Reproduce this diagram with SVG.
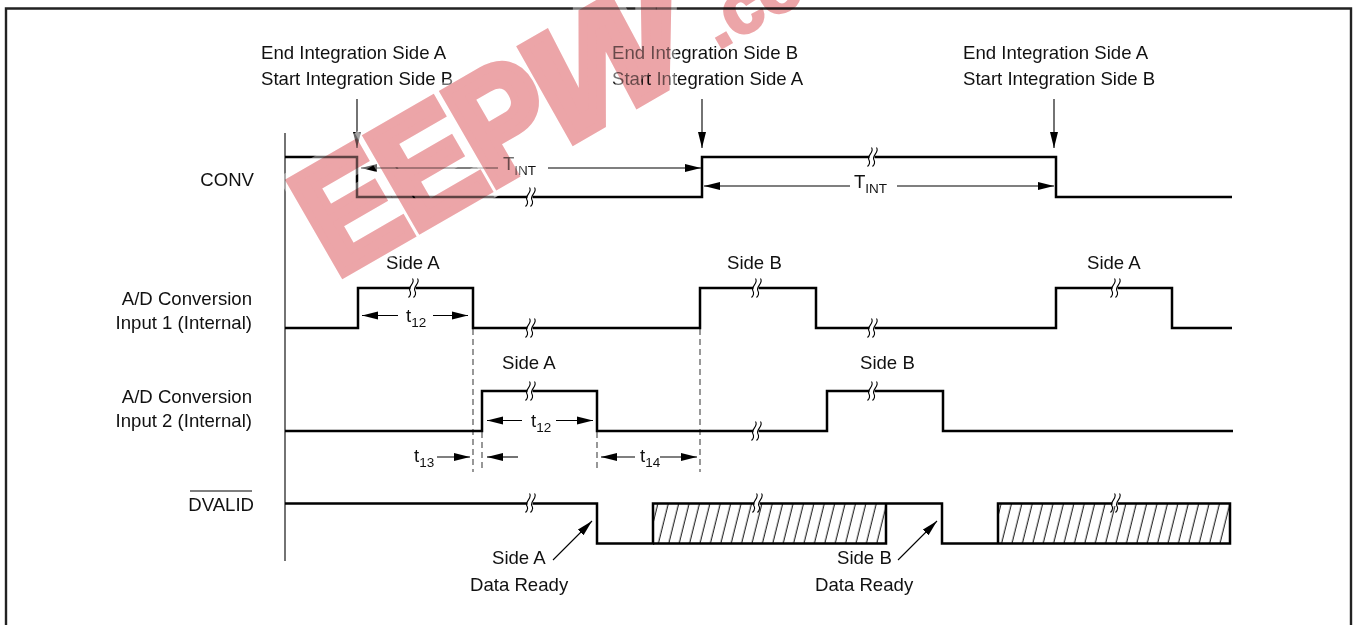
<svg xmlns="http://www.w3.org/2000/svg" xmlns:xlink="http://www.w3.org/1999/xlink" width="1356" height="625" viewBox="0 0 1356 625">
<style>
text{font-family:"Liberation Sans",Arial,sans-serif;font-size:18.6px;fill:#111}
.e{text-anchor:end}
.sub{font-size:13.5px}
.sig{fill:none;stroke:#000;stroke-width:2.5;stroke-linejoin:miter}
.thin{fill:none;stroke:#000;stroke-width:1.1}
.dash{fill:none;stroke:#444;stroke-width:1.1;stroke-dasharray:6 4}
.arr{fill:none;stroke:#000;stroke-width:1.1;marker-end:url(#head)}
.wm{font-family:"Liberation Sans",Arial,sans-serif;font-weight:bold;font-size:154px;stroke-linejoin:miter;letter-spacing:-4px}
.halo{fill:none;stroke:#fff;stroke-opacity:.4;stroke-width:20}
.red{fill:#eca5a8;stroke:#eca5a8;stroke-width:9}
.mul{mix-blend-mode:multiply}
.co{font-size:72px;stroke-width:3;letter-spacing:0}
</style>
<defs>
<marker id="head" markerUnits="userSpaceOnUse" markerWidth="17" markerHeight="10" refX="16" refY="4.5" orient="auto">
<path d="M0,0.5 L16,4.5 L0,8.5 Z" fill="#000"/>
</marker>
<pattern id="hatch" patternUnits="userSpaceOnUse" width="10.4" height="40" patternTransform="translate(653,503) skewX(-14)">
<line x1="5" y1="0" x2="5" y2="40" stroke="#000" stroke-width="1"/>
</pattern>
<g id="brk">
<rect x="-2.5" y="-3" width="5" height="6" fill="#fff"/>
<path class="thin" d="M-0.5,-9.5 C3,-5 -6,-1 -3,3 C-2,5 -2,7 -4.5,9.5"/>
<path class="thin" d="M4.5,-9.5 C8,-5 -1,-1 2,3 C3,5 3,7 0.5,9.5"/>
</g>
</defs>
<rect width="1356" height="625" fill="#fff"/>
<path id="frame" d="M6,625 V8.5 H1351 V625" fill="none" stroke="#222" stroke-width="2.4"/>
<line id="axis" class="thin" x1="285" y1="133" x2="285" y2="561"/>

<g id="connectors">
<path class="arr" d="M357,99 V148"/>
<path class="arr" d="M702,99 V148"/>
<path class="arr" d="M1054,99 V148"/>
<path class="arr" d="M498,168 H361"/>
<path class="arr" d="M548,168 H701"/>
<path class="arr" d="M850,186 H704"/>
<path class="arr" d="M897,186 H1054"/>
<path class="arr" d="M398,315.500 H362"/>
<path class="arr" d="M433,315.500 H468"/>
<path class="arr" d="M522,420.500 H487"/>
<path class="arr" d="M556,420.500 H593"/>
<path class="arr" d="M437,457 H470"/>
<path class="arr" d="M518,457 H487"/>
<path class="arr" d="M635,457 H601"/>
<path class="arr" d="M660,457 H697"/>
<path class="arr" d="M553,560 L592,521"/>
<path class="arr" d="M898,560 L937,521"/>
<path class="dash" d="M473,329 V472"/>
<path class="dash" d="M482,432 V472"/>
<path class="dash" d="M597,432 V472"/>
<path class="dash" d="M700,329 V472"/>
</g>

<g id="label-top">
<text x="261" y="59">End Integration Side A</text>
<text x="261" y="85">Start Integration Side B</text>
<text x="612" y="59">End Integration Side B</text>
<text x="612" y="85">Start Integration Side A</text>
<text x="963" y="59">End Integration Side A</text>
<text x="963" y="85">Start Integration Side B</text>
</g>

<g id="sig-conv">
<path class="sig" d="M285,157 H357 V197 H702 V157 H1056 V197 H1232"/>
<use xlink:href="#brk" href="#brk" x="530" y="197"/>
<use xlink:href="#brk" href="#brk" x="872" y="157"/>
<text class="e" x="254" y="186">CONV</text>
<text x="503" y="170">T<tspan class="sub" dy="5">INT</tspan></text>
<text x="854" y="188">T<tspan class="sub" dy="5">INT</tspan></text>
</g>

<g id="sig-input1">
<path class="sig" d="M285,328 H358 V288 H473 V328 H700 V288 H816 V328 H1056 V288 H1172 V328 H1232"/>
<use xlink:href="#brk" href="#brk" x="413" y="288"/>
<use xlink:href="#brk" href="#brk" x="530" y="328"/>
<use xlink:href="#brk" href="#brk" x="756" y="288"/>
<use xlink:href="#brk" href="#brk" x="872" y="328"/>
<use xlink:href="#brk" href="#brk" x="1115" y="288"/>
<text class="e" x="252" y="305">A/D Conversion</text>
<text class="e" x="252" y="329">Input 1 (Internal)</text>
<text x="386" y="269">Side A</text>
<text x="727" y="269">Side B</text>
<text x="1087" y="269">Side A</text>
<text x="406" y="322">t<tspan class="sub" dy="5">12</tspan></text>
</g>

<g id="sig-input2">
<path class="sig" d="M285,431 H482 V391 H597 V431 H827 V391 H943 V431 H1233"/>
<use xlink:href="#brk" href="#brk" x="530" y="391"/>
<use xlink:href="#brk" href="#brk" x="756" y="431"/>
<use xlink:href="#brk" href="#brk" x="872" y="391"/>
<text class="e" x="252" y="403">A/D Conversion</text>
<text class="e" x="252" y="427">Input 2 (Internal)</text>
<text x="502" y="369">Side A</text>
<text x="860" y="369">Side B</text>
<text x="531" y="427">t<tspan class="sub" dy="5">12</tspan></text>
<text x="414" y="462">t<tspan class="sub" dy="5">13</tspan></text>
<text x="640" y="462">t<tspan class="sub" dy="5">14</tspan></text>
</g>

<g id="sig-dvalid">
<rect x="653" y="503.500" width="233" height="40" fill="url(#hatch)"/>
<rect x="998" y="503.500" width="232" height="40" fill="url(#hatch)"/>
<path class="sig" d="M285,503.500 H597 V543.500 H653 V503.500 H942 V543.500 H998 V503.500 H1230 V543.500 H998"/>
<path class="sig" d="M653,543.500 H886 V503.500"/>
<use xlink:href="#brk" href="#brk" x="530" y="503"/>
<use xlink:href="#brk" href="#brk" x="757" y="503"/>
<use xlink:href="#brk" href="#brk" x="1115" y="503"/>
<line class="thin" x1="190" y1="491" x2="252" y2="491"/>
<text class="e" x="254" y="511">DVALID</text>
<text x="492" y="564">Side A</text>
<text x="470" y="591">Data Ready</text>
<text x="837" y="564">Side B</text>
<text x="815" y="591">Data Ready</text>
</g>

<g id="watermark">
<g transform="translate(335.500,278) rotate(-30)">
<text class="wm halo" transform="scale(.9,1)" x="0" y="0">EEP</text>
<text class="wm halo" transform="translate(245,0) skewX(-17) scale(1.15,1)" x="0" y="0">W</text>
<g class="mul">
<text class="wm red" transform="scale(.9,1)" x="0" y="0">EEP</text>
<text class="wm red" transform="translate(245,0) skewX(-17) scale(1.15,1)" x="0" y="0">W</text>
</g>
</g>
<text class="wm red co mul" transform="translate(718,50) rotate(-30)">.co</text>
</g>
</svg>
